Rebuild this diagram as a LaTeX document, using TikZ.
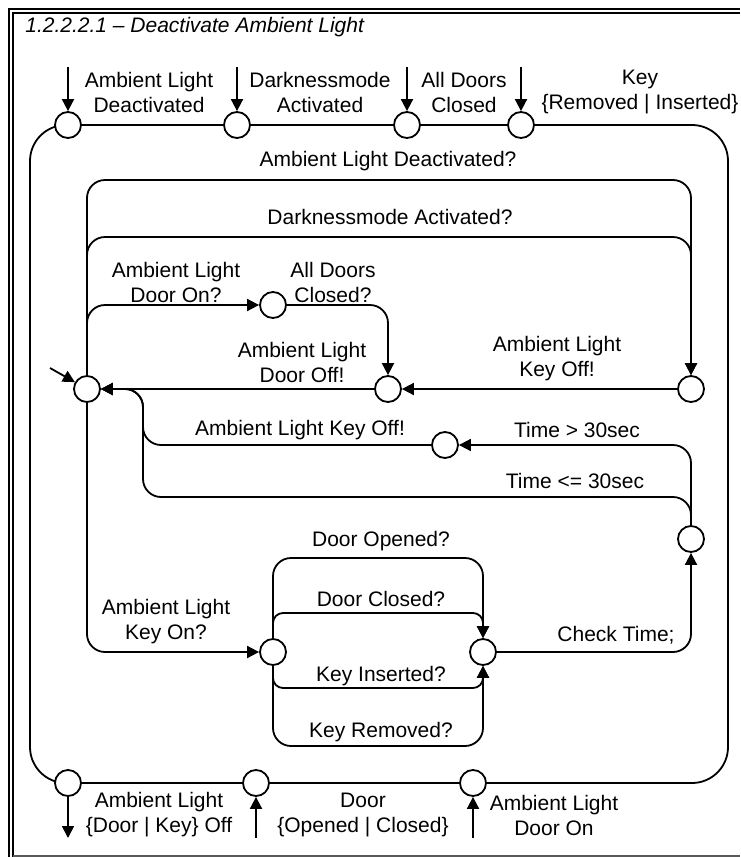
\documentclass[tikz,border=0pt]{standalone}
\usepackage{fontspec}
\setmainfont{Liberation Sans}
\usetikzlibrary{arrows.meta,backgrounds}
\begin{document}
\begin{tikzpicture}[x=0.5pt,y=-0.5pt,
  every node/.style={font=\fontsize{10.5}{12.5}\selectfont},
  st/.style={circle,draw,fill=white,line width=0.9pt,minimum size=13pt,inner sep=0pt},
  lbl/.style={align=center,inner sep=0pt},
  ln/.style={line width=0.9pt,rounded corners=9pt},
  arr/.style={ln,-{Triangle[length=6pt,width=6pt]}},
  frm/.style={line width=0.75pt}
]
\useasboundingbox (0,0) rectangle (740,857);
% frame
\draw[frm] (9,857) -- (9,9) -- (740,9);
\draw[frm] (13,857) -- (13,13) -- (740,13);
\draw[line width=1pt,black!65] (13,856) -- (740,856);
\node[anchor=west,inner sep=0pt,font=\fontsize{10.5}{12.5}\selectfont\itshape] (title) at (25,27) {1.2.2.2.1 – Deactivate Ambient Light};

% states
\node[st] (p1) at (68,125) {};
\node[st] (p2) at (237,125) {};
\node[st] (p3) at (407,125) {};
\node[st] (p4) at (521,125) {};
\node[st] (b1) at (68,783) {};
\node[st] (b2) at (256,783) {};
\node[st] (b3) at (473,783) {};
\node[st] (s0) at (87,389) {};
\node[st] (m1) at (273,305) {};
\node[st] (m2) at (388,389) {};
\node[st] (r1) at (691,389) {};
\node[st] (t1) at (445,445) {};
\node[st] (t2) at (691,539) {};
\node[st] (k1) at (273,652) {};
\node[st] (k2) at (483,652) {};

% outer boundary
\begin{scope}[on background layer]
\draw[ln,rounded corners=18pt] (p4.center) -- (728,125) -- (728,783) -- (b3.center);
\draw[ln,rounded corners=18pt] (b1.center) -- (30,783) -- (30,125) -- (p1.center);
\end{scope}
\draw[ln] (p1) -- (p2);
\draw[ln] (p2) -- (p3);
\draw[ln] (p3) -- (p4);
\draw[ln] (b3) -- (b2);
\draw[ln] (b2) -- (b1);

% ports
\coordinate (i1) at (68,67);
\coordinate (i2) at (237,67);
\coordinate (i3) at (407,67);
\coordinate (i4) at (521,67);
\coordinate (o1) at (68,838);
\coordinate (o2) at (256,838);
\coordinate (o3) at (473,838);
\draw[arr] (i1) -- (p1);
\draw[arr] (i2) -- (p2);
\draw[arr] (i3) -- (p3);
\draw[arr] (i4) -- (p4);
\draw[arr] (b1) -- (o1);
\draw[arr] (o2) -- (b2);
\draw[arr] (o3) -- (b3);

% initial
\coordinate (i0) at (50,368);
\draw[arr] (i0) -- (s0);

% inner transitions
\draw[arr] (s0) -- (87,180) -- (691,180) -- (r1);
\draw[arr] (s0) -- (87,237) -- (691,237) -- (r1);
\draw[arr] (s0) -- (87,305) -- (m1);
\draw[arr] (m1) -- (388,305) -- (m2);
\draw[arr] (r1) -- (m2);
\draw[arr] (m2) -- (s0);
\draw[arr] (t2) -- (691,445) -- (t1);
\draw[arr] (t1) -- (143,445) -- (143,389) -- (s0);
\draw[arr] (t2) -- (691,497) -- (143,497) -- (143,389) -- (s0);
\draw[arr] (s0) -- (87,652) -- (k1);
\draw[arr] (k1) -- (273,558) -- (483,558) -- (k2);
\draw[arr,rounded corners=5pt] (k1) -- (273,613) -- (483,613) -- (k2);
\draw[arr,rounded corners=5pt] (k1) -- (273,688) -- (483,688) -- (k2);
\draw[arr] (k1) -- (273,746) -- (483,746) -- (k2);
\draw[arr] (k2) -- (691,652) -- (t2);

% labels
\node[lbl] (l1) at (149,92) {Ambient Light\\Deactivated};
\node[lbl] (l2) at (320,92) {Darknessmode\\Activated};
\node[lbl] (l3) at (464,92) {All Doors\\Closed};
\node[lbl] (l4) at (640,92) {Key\\\{Removed | Inserted\}};
\node[lbl] (l5) at (388,161) {Ambient Light Deactivated?};
\node[lbl] (l6) at (390,217) {Darknessmode Activated?};
\node[lbl] (l7) at (176,282) {Ambient Light\\Door On?};
\node[lbl] (l8) at (333,282) {All Doors\\Closed?};
\node[lbl] (l9) at (302,362) {Ambient Light\\Door Off!};
\node[lbl] (l10) at (557,359) {Ambient Light\\Key Off!};
\node[lbl] (l11) at (300,430) {Ambient Light Key Off!};
\node[lbl] (l12) at (577,430) {Time > 30sec};
\node[lbl] (l13) at (575,481) {Time <= 30sec};
\node[lbl] (l14) at (166,622) {Ambient Light\\Key On?};
\node[lbl] (l15) at (381,541) {Door Opened?};
\node[lbl] (l16) at (381,599) {Door Closed?};
\node[lbl] (l17) at (381,676) {Key Inserted?};
\node[lbl] (l18) at (381,732) {Key Removed?};
\node[lbl] (l19) at (616,635) {Check Time;};
\node[lbl] (l20) at (159,815) {Ambient Light\\\{Door | Key\} Off};
\node[lbl] (l21) at (363,815) {Door\\\{Opened | Closed\}};
\node[lbl] (l22) at (554,815) {Ambient Light\\Door On};
\end{tikzpicture}
\end{document}
